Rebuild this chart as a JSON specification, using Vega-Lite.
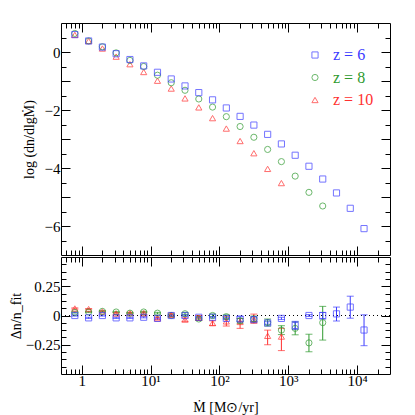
{
  "$schema": "https://vega.github.io/schema/vega-lite/v6.json",
  "padding": {"left": 8, "top": 22, "right": 22, "bottom": 5},
  "spacing": 0,
  "resolve": {"scale": {"color": "independent", "shape": "independent"}, "legend": {"color": "independent", "shape": "independent"}},
  "config": {
    "font": "Liberation Serif",
    "view": {"stroke": "black", "strokeWidth": 1},
    "axis": {"domain": false, "grid": false, "tickColor": "black", "labelColor": "black", "labelFontSize": 15, "titleFontSize": 14, "titleFontWeight": "normal", "titleColor": "black", "labelFont": "Liberation Serif", "titleFont": "Liberation Serif", "labelOverlap": false, "labelBound": false, "labelFlush": false}
  },
  "datasets": {
    "pts": [
      {"z": "z = 10", "mdot": 0.794, "v": 0.59, "r": 0.06, "lo": 0.055, "hi": 0.065},
      {"z": "z = 10", "mdot": 1.259, "v": 0.38, "r": 0.055, "lo": 0.05, "hi": 0.06},
      {"z": "z = 10", "mdot": 1.995, "v": 0.12, "r": 0.035, "lo": 0.03, "hi": 0.04},
      {"z": "z = 10", "mdot": 3.162, "v": -0.16, "r": 0.017, "lo": 0.01, "hi": 0.024},
      {"z": "z = 10", "mdot": 5.012, "v": -0.42, "r": 0.02, "lo": 0.012, "hi": 0.028},
      {"z": "z = 10", "mdot": 7.943, "v": -0.69, "r": 0.02, "lo": 0.01, "hi": 0.03},
      {"z": "z = 10", "mdot": 12.59, "v": -0.99, "r": -0.025, "lo": -0.037, "hi": -0.013},
      {"z": "z = 10", "mdot": 19.95, "v": -1.26, "r": 0.005, "lo": -0.01, "hi": 0.02},
      {"z": "z = 10", "mdot": 31.62, "v": -1.6, "r": -0.035, "lo": -0.05, "hi": -0.02},
      {"z": "z = 10", "mdot": 50.12, "v": -1.91, "r": -0.02, "lo": -0.04, "hi": 0.0},
      {"z": "z = 10", "mdot": 79.43, "v": -2.28, "r": -0.065, "lo": -0.085, "hi": -0.045},
      {"z": "z = 10", "mdot": 125.9, "v": -2.64, "r": -0.05, "lo": -0.09, "hi": -0.01},
      {"z": "z = 10", "mdot": 199.5, "v": -3.07, "r": -0.055, "lo": -0.11, "hi": -0.026},
      {"z": "z = 10", "mdot": 316.2, "v": -3.49, "r": -0.035, "lo": -0.067, "hi": 0.012},
      {"z": "z = 10", "mdot": 501.2, "v": -4.03, "r": -0.174, "lo": -0.25, "hi": -0.125},
      {"z": "z = 10", "mdot": 794.3, "v": -4.52, "r": -0.18, "lo": -0.3, "hi": -0.11},
      {"z": "z = 8", "mdot": 0.794, "v": 0.64, "r": 0.026, "lo": 0.021, "hi": 0.031},
      {"z": "z = 8", "mdot": 1.259, "v": 0.38, "r": 0.03, "lo": 0.025, "hi": 0.035},
      {"z": "z = 8", "mdot": 1.995, "v": 0.18, "r": 0.035, "lo": 0.03, "hi": 0.04},
      {"z": "z = 8", "mdot": 3.162, "v": -0.03, "r": 0.03, "lo": 0.025, "hi": 0.035},
      {"z": "z = 8", "mdot": 5.012, "v": -0.29, "r": 0.02, "lo": 0.015, "hi": 0.025},
      {"z": "z = 8", "mdot": 7.943, "v": -0.5, "r": 0.03, "lo": 0.024, "hi": 0.036},
      {"z": "z = 8", "mdot": 12.59, "v": -0.8, "r": 0.02, "lo": 0.013, "hi": 0.027},
      {"z": "z = 8", "mdot": 19.95, "v": -1.06, "r": 0.0, "lo": -0.007, "hi": 0.007},
      {"z": "z = 8", "mdot": 31.62, "v": -1.32, "r": 0.015, "lo": 0.006, "hi": 0.024},
      {"z": "z = 8", "mdot": 50.12, "v": -1.62, "r": -0.03, "lo": -0.04, "hi": -0.02},
      {"z": "z = 8", "mdot": 79.43, "v": -1.9, "r": 0.0, "lo": -0.012, "hi": 0.012},
      {"z": "z = 8", "mdot": 125.9, "v": -2.23, "r": -0.01, "lo": -0.025, "hi": 0.005},
      {"z": "z = 8", "mdot": 199.5, "v": -2.57, "r": -0.045, "lo": -0.065, "hi": -0.025},
      {"z": "z = 8", "mdot": 316.2, "v": -2.94, "r": -0.03, "lo": -0.055, "hi": -0.005},
      {"z": "z = 8", "mdot": 501.2, "v": -3.36, "r": -0.06, "lo": -0.09, "hi": -0.03},
      {"z": "z = 8", "mdot": 794.3, "v": -3.78, "r": -0.125, "lo": -0.163, "hi": -0.087},
      {"z": "z = 8", "mdot": 1259, "v": -4.28, "r": -0.11, "lo": -0.165, "hi": -0.055},
      {"z": "z = 8", "mdot": 1995, "v": -4.84, "r": -0.234, "lo": -0.31, "hi": -0.16},
      {"z": "z = 8", "mdot": 3162, "v": -5.31, "r": -0.061, "lo": -0.21, "hi": 0.078},
      {"z": "z = 6", "mdot": 0.794, "v": 0.6, "r": 0.0, "lo": -0.005, "hi": 0.005},
      {"z": "z = 6", "mdot": 1.259, "v": 0.38, "r": -0.02, "lo": -0.025, "hi": -0.015},
      {"z": "z = 6", "mdot": 1.995, "v": 0.17, "r": 0.0, "lo": -0.005, "hi": 0.005},
      {"z": "z = 6", "mdot": 3.162, "v": -0.06, "r": -0.02, "lo": -0.025, "hi": -0.015},
      {"z": "z = 6", "mdot": 5.012, "v": -0.26, "r": -0.02, "lo": -0.025, "hi": -0.015},
      {"z": "z = 6", "mdot": 7.943, "v": -0.48, "r": -0.015, "lo": -0.02, "hi": -0.01},
      {"z": "z = 6", "mdot": 12.59, "v": -0.7, "r": -0.025, "lo": -0.03, "hi": -0.02},
      {"z": "z = 6", "mdot": 19.95, "v": -0.93, "r": 0.0, "lo": -0.006, "hi": 0.006},
      {"z": "z = 6", "mdot": 31.62, "v": -1.17, "r": 0.0, "lo": -0.006, "hi": 0.006},
      {"z": "z = 6", "mdot": 50.12, "v": -1.4, "r": -0.015, "lo": -0.022, "hi": -0.008},
      {"z": "z = 6", "mdot": 79.43, "v": -1.65, "r": -0.015, "lo": -0.022, "hi": -0.008},
      {"z": "z = 6", "mdot": 125.9, "v": -1.93, "r": -0.025, "lo": -0.035, "hi": -0.015},
      {"z": "z = 6", "mdot": 199.5, "v": -2.22, "r": -0.03, "lo": -0.05, "hi": -0.01},
      {"z": "z = 6", "mdot": 316.2, "v": -2.52, "r": -0.035, "lo": -0.05, "hi": -0.02},
      {"z": "z = 6", "mdot": 501.2, "v": -2.84, "r": -0.064, "lo": -0.075, "hi": -0.053},
      {"z": "z = 6", "mdot": 794.3, "v": -3.17, "r": -0.025, "lo": -0.035, "hi": -0.015},
      {"z": "z = 6", "mdot": 1259, "v": -3.56, "r": -0.085, "lo": -0.12, "hi": -0.05},
      {"z": "z = 6", "mdot": 1995, "v": -3.94, "r": 0.0, "lo": -0.008, "hi": 0.008},
      {"z": "z = 6", "mdot": 3162, "v": -4.38, "r": 0.0, "lo": -0.03, "hi": 0.026},
      {"z": "z = 6", "mdot": 5012, "v": -4.86, "r": 0.014, "lo": -0.047, "hi": 0.072},
      {"z": "z = 6", "mdot": 7943, "v": -5.39, "r": 0.072, "lo": -0.023, "hi": 0.165},
      {"z": "z = 6", "mdot": 12589, "v": -6.09, "r": -0.124, "lo": -0.258, "hi": 0.006}
    ]
  },
  "vconcat": [
    {
      "width": 329,
      "height": 232,
      "data": {"name": "pts"},
      "layer": [
        {
          "mark": {"type": "point", "filled": false, "strokeWidth": 1, "size": 38},
          "encoding": {
            "x": {"field": "mdot", "type": "quantitative", "scale": {"type": "log", "domain": [0.5, 30000], "nice": false},
              "axis": {"orient": "bottom", "title": null, "labels": false,
                "values": [0.6,0.7,0.8,0.9,1,2,3,4,5,6,7,8,9,10,20,30,40,50,60,70,80,90,100,200,300,400,500,600,700,800,900,1000,2000,3000,4000,5000,6000,7000,8000,9000,10000,20000],
                "tickSize": {"condition": {"test": "indexof([1,10,100,1000,10000], datum.value) >= 0", "value": -9}, "value": -5}}},
            "y": {"field": "v", "type": "quantitative", "scale": {"domain": [-7, 1], "nice": false, "zero": false},
              "axis": {"orient": "left", "title": "log (dn/dlgṀ)", "titlePadding": 8, "labelPadding": 10,
                "values": [-6.5,-6,-5.5,-5,-4.5,-4,-3.5,-3,-2.5,-2,-1.5,-1,-0.5,0,0.5],
                "labelExpr": "datum.value % 2 == 0 ? replace(format(datum.value, 'd'), '-', '−') : ''",
                "tickSize": {"condition": {"test": "datum.value % 1 == 0", "value": -9}, "value": -5}}},
            "color": {"field": "z", "type": "nominal", "scale": {"domain": ["z = 6", "z = 8", "z = 10"], "range": ["#3a3aff", "#2e9a2e", "#ff3030"]},
              "legend": {"orient": "none", "legendX": 246, "legendY": 24, "title": null, "labelFontSize": 16, "labelFont": "Liberation Serif", "rowPadding": 6.5, "labelOffset": 10, "symbolStrokeWidth": 1, "symbolSize": 38, "symbolFillColor": "transparent",
                "labelColor": {"expr": "datum.value == 'z = 6' ? '#3a3aff' : datum.value == 'z = 8' ? '#2e9a2e' : '#ff3030'"}}},
            "shape": {"field": "z", "type": "nominal", "scale": {"domain": ["z = 6", "z = 8", "z = 10"], "range": ["square", "circle", "triangle-up"]},
              "legend": {"orient": "none", "legendX": 246, "legendY": 24, "title": null, "labelFontSize": 16, "labelFont": "Liberation Serif", "rowPadding": 6.5, "labelOffset": 10, "symbolStrokeWidth": 1, "symbolSize": 38, "symbolFillColor": "transparent",
                "labelColor": {"expr": "datum.value == 'z = 6' ? '#3a3aff' : datum.value == 'z = 8' ? '#2e9a2e' : '#ff3030'"}}}
          }
        },
        {
          "mark": {"type": "point", "opacity": 0},
          "encoding": {
            "x": {"field": "mdot", "type": "quantitative", "scale": {"type": "log", "domain": [0.5, 30000], "nice": false},
              "axis": {"orient": "top", "title": null, "labels": false,
                "values": [0.6,0.7,0.8,0.9,1,2,3,4,5,6,7,8,9,10,20,30,40,50,60,70,80,90,100,200,300,400,500,600,700,800,900,1000,2000,3000,4000,5000,6000,7000,8000,9000,10000,20000],
                "tickSize": {"condition": {"test": "indexof([1,10,100,1000,10000], datum.value) >= 0", "value": -9}, "value": -5}}},
            "y": {"field": "v", "type": "quantitative", "scale": {"domain": [-7, 1], "nice": false, "zero": false},
              "axis": {"orient": "right", "title": null, "labels": false,
                "values": [-6.5,-6,-5.5,-5,-4.5,-4,-3.5,-3,-2.5,-2,-1.5,-1,-0.5,0,0.5],
                "tickSize": {"condition": {"test": "datum.value % 1 == 0", "value": -9}, "value": -5}}}
          }
        }
      ],
      "resolve": {"axis": {"x": "independent", "y": "independent"}}
    },
    {
      "width": 329,
      "height": 117,
      "data": {"name": "pts"},
      "layer": [
        {
          "mark": {"type": "rule", "strokeDash": [1, 3], "color": "black", "strokeWidth": 1},
          "encoding": {"y": {"datum": 0, "type": "quantitative", "axis": null}}
        },
        {
          "mark": {"type": "errorbar", "ticks": {"size": 7}, "thickness": 1},
          "encoding": {
            "x": {"field": "mdot", "type": "quantitative", "scale": {"type": "log", "domain": [0.5, 30000], "nice": false}, "axis": null},
            "y": {"field": "lo", "type": "quantitative", "scale": {"domain": [-0.5, 0.5], "nice": false, "zero": false}, "axis": null},
            "y2": {"field": "hi"},
            "color": {"field": "z", "type": "nominal", "scale": {"domain": ["z = 6", "z = 8", "z = 10"], "range": ["#3a3aff", "#2e9a2e", "#ff3030"]}, "legend": null}
          }
        },
        {
          "mark": {"type": "point", "filled": false, "strokeWidth": 1, "size": 38},
          "encoding": {
            "x": {"field": "mdot", "type": "quantitative", "scale": {"type": "log", "domain": [0.5, 30000], "nice": false},
              "axis": {"orient": "bottom", "title": "Ṁ  [M⊙/yr]", "titlePadding": 8, "labelPadding": 8,
                "values": [0.6,0.7,0.8,0.9,1,2,3,4,5,6,7,8,9,10,20,30,40,50,60,70,80,90,100,200,300,400,500,600,700,800,900,1000,2000,3000,4000,5000,6000,7000,8000,9000,10000,20000],
                "labelExpr": "datum.value == 1 ? '1' : datum.value == 10 ? '10¹' : datum.value == 100 ? '10²' : datum.value == 1000 ? '10³' : datum.value == 10000 ? '10⁴' : ''",
                "tickSize": {"condition": {"test": "indexof([1,10,100,1000,10000], datum.value) >= 0", "value": -9}, "value": -5}}},
            "y": {"field": "r", "type": "quantitative", "scale": {"domain": [-0.5, 0.5], "nice": false, "zero": false},
              "axis": {"orient": "left", "title": "Δn/n_fit", "titlePadding": 2, "labelPadding": 10,
                "values": [-0.4375,-0.375,-0.3125,-0.25,-0.1875,-0.125,-0.0625,0,0.0625,0.125,0.1875,0.25,0.3125,0.375,0.4375],
                "labelExpr": "datum.value == 0.25 ? '0.25' : datum.value == 0 ? '0' : datum.value == -0.25 ? '−0.25' : ''",
                "tickSize": {"condition": {"test": "datum.value % 0.25 == 0", "value": -9}, "value": -5}}},
            "color": {"field": "z", "type": "nominal", "scale": {"domain": ["z = 6", "z = 8", "z = 10"], "range": ["#3a3aff", "#2e9a2e", "#ff3030"]}, "legend": null},
            "shape": {"field": "z", "type": "nominal", "scale": {"domain": ["z = 6", "z = 8", "z = 10"], "range": ["square", "circle", "triangle-up"]}, "legend": null}
          }
        },
        {
          "mark": {"type": "point", "opacity": 0},
          "encoding": {
            "x": {"field": "mdot", "type": "quantitative", "scale": {"type": "log", "domain": [0.5, 30000], "nice": false},
              "axis": {"orient": "top", "title": null, "labels": false,
                "values": [0.6,0.7,0.8,0.9,1,2,3,4,5,6,7,8,9,10,20,30,40,50,60,70,80,90,100,200,300,400,500,600,700,800,900,1000,2000,3000,4000,5000,6000,7000,8000,9000,10000,20000],
                "tickSize": {"condition": {"test": "indexof([1,10,100,1000,10000], datum.value) >= 0", "value": -9}, "value": -5}}},
            "y": {"field": "r", "type": "quantitative", "scale": {"domain": [-0.5, 0.5], "nice": false, "zero": false},
              "axis": {"orient": "right", "title": null, "labels": false,
                "values": [-0.4375,-0.375,-0.3125,-0.25,-0.1875,-0.125,-0.0625,0,0.0625,0.125,0.1875,0.25,0.3125,0.375,0.4375],
                "tickSize": {"condition": {"test": "datum.value % 0.25 == 0", "value": -9}, "value": -5}}}
          }
        }
      ],
      "resolve": {"axis": {"x": "independent", "y": "independent"}}
    }
  ]
}
